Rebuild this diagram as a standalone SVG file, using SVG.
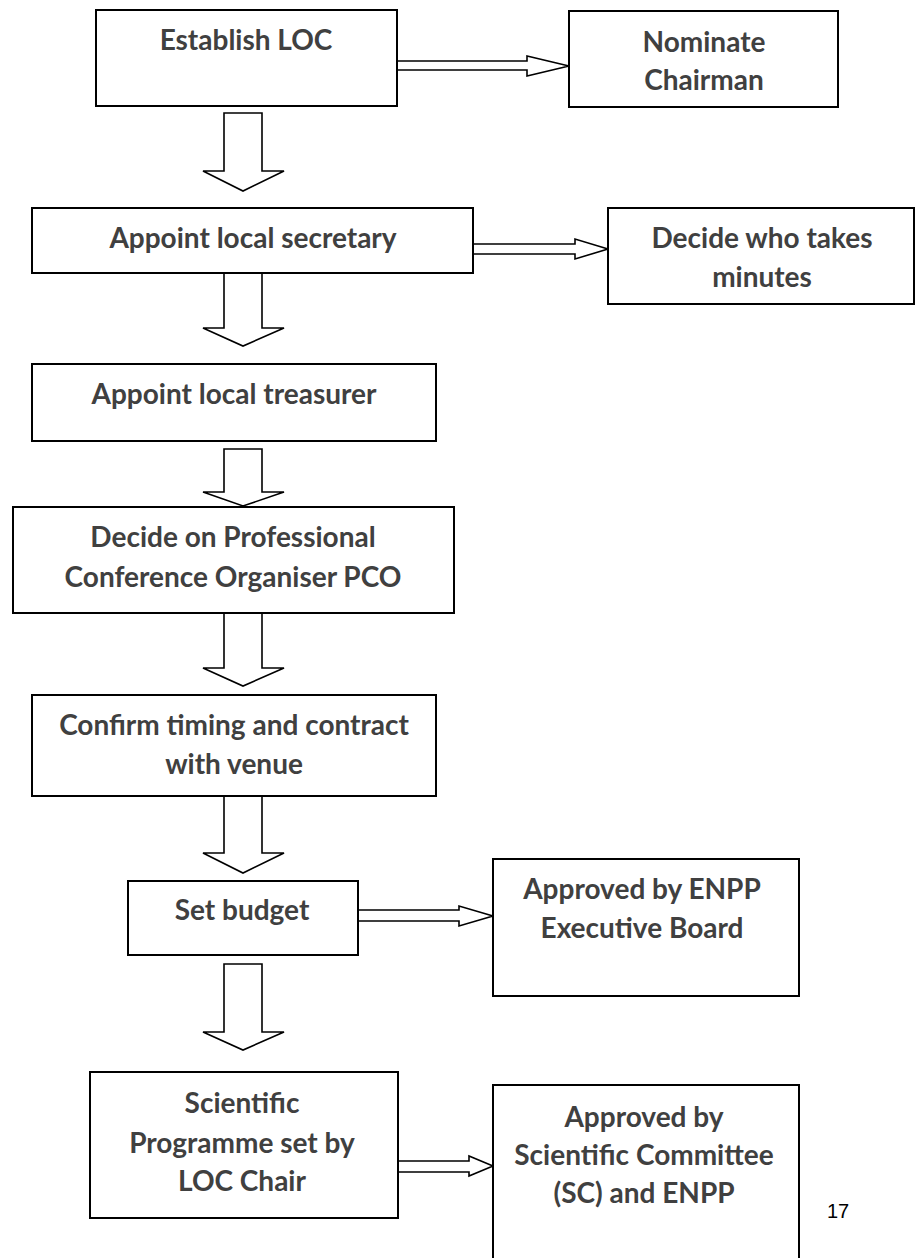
<svg xmlns="http://www.w3.org/2000/svg" width="915" height="1258" viewBox="0 0 915 1258">
<style>
.box{fill:#fff;stroke:#000;stroke-width:2}
.arr{fill:#fff;stroke:#000;stroke-width:1.6;stroke-linejoin:miter}
.t{font-family:Lato,"Open Sans",sans-serif;font-weight:bold;font-size:28px;fill:#404040;text-anchor:middle}
.pg{font-family:"Liberation Sans",Arial,sans-serif;font-size:20px;fill:#000}
</style>
<rect width="915" height="1258" fill="#fff"/>
<g id="connectors">
<polygon class="arr" points="224,113 262,113 262,171 284,171 243,191 203,171 224,171"/>
<polygon class="arr" points="224,273 262,273 262,328 284,328 243,346 203,328 224,328"/>
<polygon class="arr" points="224,449 262,449 262,492 284,492 243,506 203,492 224,492"/>
<polygon class="arr" points="224,613 262,613 262,668 284,668 243,686 203,668 224,668"/>
<polygon class="arr" points="224,796 262,796 262,853 284,853 243,873 203,853 224,853"/>
<polygon class="arr" points="224,964 262,964 262,1032 284,1032 243,1050 203,1032 224,1032"/>
<polygon class="arr" points="397,61 527,61 527,56 569,66 527,76 527,70 397,70"/>
<polygon class="arr" points="473,244 575,244 575,239 608,249 575,259 575,254 473,254"/>
<polygon class="arr" points="358,910 459,910 459,906 493,916 459,926 459,921 358,921"/>
<polygon class="arr" points="398,1161 469,1161 469,1156 493,1166 469,1176 469,1172 398,1172"/>
</g>
<g id="n1"><rect class="box" x="96" y="10" width="301" height="96"/><text class="t" x="246" y="50">Establish LOC</text></g>
<g id="n2"><rect class="box" x="569" y="11" width="269" height="96"/><text class="t" x="704" y="52">Nominate</text><text class="t" x="704" y="90">Chairman</text></g>
<g id="n3"><rect class="box" x="32" y="208" width="441" height="65"/><text class="t" x="253" y="248">Appoint local secretary</text></g>
<g id="n4"><rect class="box" x="608" y="208" width="306" height="96"/><text class="t" x="762" y="248">Decide who takes</text><text class="t" x="762" y="287">minutes</text></g>
<g id="n5"><rect class="box" x="32" y="364" width="404" height="77"/><text class="t" x="234" y="404">Appoint local treasurer</text></g>
<g id="n6"><rect class="box" x="13" y="507" width="441" height="106"/><text class="t" x="233" y="547">Decide on Professional</text><text class="t" x="233" y="587">Conference Organiser PCO</text></g>
<g id="n7"><rect class="box" x="32" y="695" width="404" height="101"/><text class="t" x="234" y="735">Confirm timing and contract</text><text class="t" x="234" y="774">with venue</text></g>
<g id="n8"><rect class="box" x="128" y="881" width="230" height="74"/><text class="t" x="242" y="920">Set budget</text></g>
<g id="n9"><rect class="box" x="493" y="859" width="306" height="137"/><text class="t" x="642" y="899">Approved by ENPP</text><text class="t" x="642" y="938">Executive Board</text></g>
<g id="n10"><rect class="box" x="90" y="1072" width="308" height="146"/><text class="t" x="242" y="1113">Scientific</text><text class="t" x="242" y="1153">Programme set by</text><text class="t" x="242" y="1191">LOC Chair</text></g>
<g id="n11"><rect class="box" x="493" y="1085" width="306" height="185"/><text class="t" x="644" y="1127">Approved by</text><text class="t" x="644" y="1165">Scientific Committee</text><text class="t" x="644" y="1203">(SC) and ENPP</text></g>
<text class="pg" x="827" y="1218">17</text>
</svg>
